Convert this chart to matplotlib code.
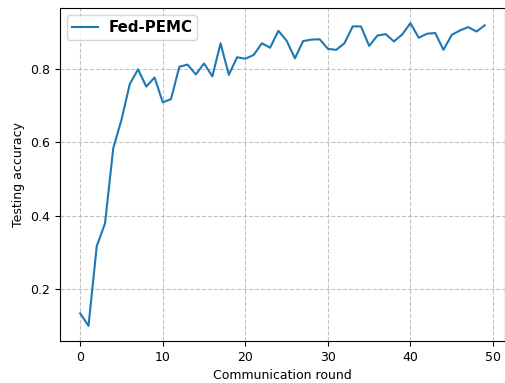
import numpy as np
import matplotlib
matplotlib.use("Agg")
import matplotlib.pyplot as plt

# test accuracy per communication round
rounds = np.arange(50)
acc = [0.134, 0.100, 0.317, 0.379, 0.584, 0.662, 0.759, 0.799, 0.752, 0.777,
       0.709, 0.718, 0.806, 0.812, 0.785, 0.815, 0.780, 0.870, 0.784, 0.832,
       0.828, 0.838, 0.870, 0.858, 0.904, 0.877, 0.829, 0.876, 0.880, 0.881,
       0.855, 0.852, 0.870, 0.916, 0.916, 0.863, 0.891, 0.895, 0.875, 0.894,
       0.925, 0.885, 0.896, 0.898, 0.852, 0.893, 0.905, 0.914, 0.902, 0.919]

fig = plt.figure(figsize=(5.06, 3.83), dpi=100)
ax = fig.add_axes([0.1186, 0.1097, 0.8794, 0.8695])

ax.plot(rounds, acc, color='tab:blue', linewidth=1.5, label='Fed-PEMC')
ax.set_xlabel('Communication round', fontsize=9)
ax.set_ylabel('Testing accuracy', fontsize=9)
ax.tick_params(labelsize=9)
ax.set_xticks([0, 10, 20, 30, 40, 50])
ax.set_yticks([0.2, 0.4, 0.6, 0.8])
ax.grid(True, linestyle='--', color='#c2c2c2', linewidth=0.8)
ax.legend(loc='upper left', prop={'weight': 'bold', 'size': 10.8},
          handlelength=1.73, handletextpad=0.68, borderpad=0.35,
          borderaxespad=0.45)

fig.savefig('out.png', dpi=100)
